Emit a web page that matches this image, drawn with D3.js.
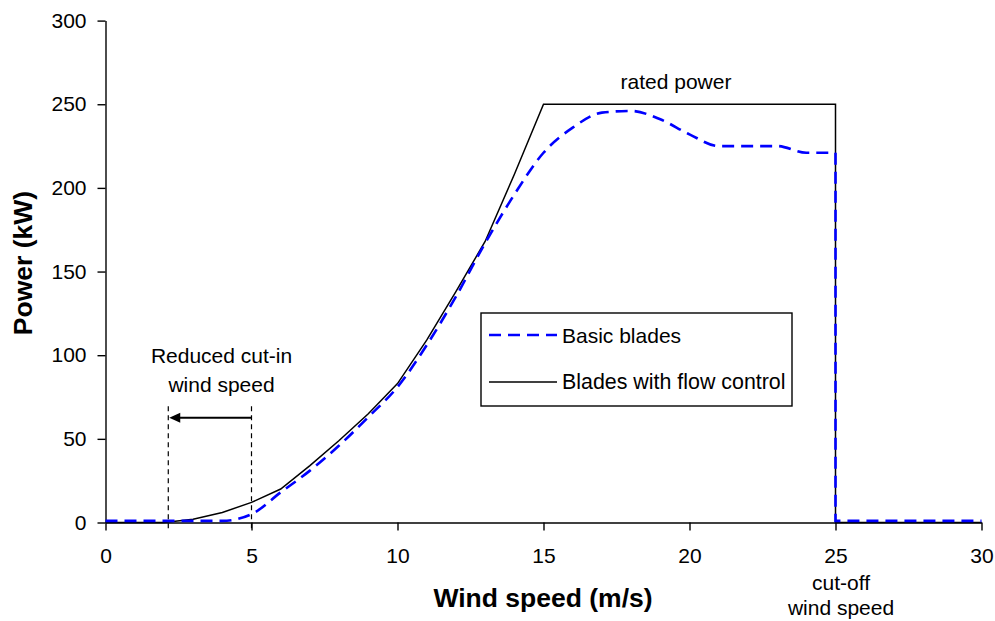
<!DOCTYPE html>
<html>
<head>
<meta charset="utf-8">
<script src="https://cdn.jsdelivr.net/npm/d3@7"></script>
<style>
  html, body { margin: 0; padding: 0; background: #fff; }
  svg { display: block; }
  text { font-family: "Liberation Sans", Arial, sans-serif; fill: #000; }
</style>
</head>
<body>
<svg id="chart" width="995" height="621"></svg>
<script>
// Power curve of a wind turbine: basic blades vs. blades with flow control
const speedFlow = [0, 1, 2, 3, 4, 5, 6, 7, 8, 9, 10, 11, 12, 13, 14, 15, 25, 25, 30];
const powerFlow = [0, 0, 0, 2, 6, 12, 20, 34, 49, 65, 83, 109, 138, 168, 208, 250, 250, 0, 0];

const speedBasic = [0, 1, 2, 3, 4, 5, 6, 7, 8, 9, 10, 11, 12, 13, 14, 15, 16, 17, 18, 19, 20, 21, 22, 23, 24, 25];
const powerBasic = [1, 1, 1, 1, 1, 5, 18, 31, 46, 63, 81, 106, 135, 167, 196, 221, 236, 245, 246, 241, 232, 225, 225, 225, 221, 221];
// after cut-off the basic blades produce nothing
const speedBasicOff = [25, 25, 30];
const powerBasicOff = [221, 1, 1];

const xTicks = [0, 5, 10, 15, 20, 25, 30];
const yTicks = [0, 50, 100, 150, 200, 250, 300];

const cutInOld = 5, cutInNew = 2.15, cutOff = 25;

const svg = d3.select("#chart");
const x = d3.scaleLinear().domain([0, 30]).range([105.5, 981.5]);
const y = d3.scaleLinear().domain([0, 300]).range([522.5, 20.6]);

// axes
const xAxis = svg.append("g")
  .attr("transform", `translate(0,${y(0)})`)
  .call(d3.axisBottom(x).tickValues(xTicks).tickSize(8).tickSizeOuter(0).tickPadding(18).tickFormat(d3.format("d")));
const yAxis = svg.append("g")
  .attr("transform", `translate(${x(0)},0)`)
  .call(d3.axisLeft(y).tickValues(yTicks).tickSize(8).tickSizeOuter(0).tickPadding(11).tickFormat(d3.format("d")));
[xAxis, yAxis].forEach(g => {
  g.selectAll("path, line").attr("stroke", "#000").attr("stroke-width", 1.4);
  g.selectAll("text").style("font-size", "21px").style("font-family", "'Liberation Sans', Arial, sans-serif").attr("fill", "#000");
});

// curves
const toPts = (xs, ys) => xs.map((v, i) => [v, ys[i]]);
const linear = d3.line().x(d => x(d[0])).y(d => y(d[1]));
const smooth = d3.line().x(d => x(d[0])).y(d => y(d[1])).curve(d3.curveMonotoneX);

svg.append("path")
  .attr("d", linear(toPts(speedFlow, powerFlow)))
  .attr("fill", "none").attr("stroke", "#000").attr("stroke-width", 1.5);

const basicGroup = svg.append("g")
  .attr("fill", "none").attr("stroke", "#0000ff").attr("stroke-width", 2.6)
  .attr("stroke-dasharray", "12,7");
basicGroup.append("path").attr("d", smooth(toPts(speedBasic, powerBasic)));
basicGroup.append("path").attr("d", linear(toPts(speedBasicOff, powerBasicOff)));

// cut-in annotation
[cutInNew, cutInOld].forEach(v => {
  svg.append("line")
    .attr("x1", x(v)).attr("x2", x(v))
    .attr("y1", y(69.5)).attr("y2", y(-4.8))
    .attr("stroke", "#000").attr("stroke-width", 1.2).attr("stroke-dasharray", "5,4");
});
const arrowY = y(62.6);
svg.append("line")
  .attr("x1", x(cutInOld)).attr("x2", x(cutInNew) + 8)
  .attr("y1", arrowY).attr("y2", arrowY)
  .attr("stroke", "#000").attr("stroke-width", 2);
svg.append("path")
  .attr("d", `M${x(cutInNew) + 1},${arrowY} L${x(cutInNew) + 12},${arrowY - 5} L${x(cutInNew) + 12},${arrowY + 5} Z`)
  .attr("fill", "#000");

svg.append("text").attr("x", 221.5).attr("y", 363.3).attr("text-anchor", "middle")
  .style("font-size", "21px").text("Reduced cut-in");
svg.append("text").attr("x", 221.5).attr("y", 391.7).attr("text-anchor", "middle")
  .style("font-size", "21px").text("wind speed");

svg.append("text").attr("x", 676).attr("y", 89).attr("text-anchor", "middle")
  .style("font-size", "21px").text("rated power");

svg.append("text").attr("x", 841).attr("y", 590).attr("text-anchor", "middle")
  .style("font-size", "21px").text("cut-off");
svg.append("text").attr("x", 841).attr("y", 615).attr("text-anchor", "middle")
  .style("font-size", "21px").text("wind speed");

// axis titles
svg.append("text").attr("x", 543).attr("y", 607).attr("text-anchor", "middle")
  .style("font-size", "26.5px").style("font-weight", "bold").text("Wind speed (m/s)");
svg.append("text").attr("transform", "translate(32,263) rotate(-90)").attr("text-anchor", "middle")
  .style("font-size", "26.5px").style("font-weight", "bold").text("Power (kW)");

// legend
const legend = svg.append("g");
legend.append("rect").attr("x", 481).attr("y", 313).attr("width", 311).attr("height", 93)
  .attr("fill", "#fff").attr("stroke", "#000").attr("stroke-width", 1.4);
legend.append("line").attr("x1", 489).attr("x2", 557).attr("y1", 335).attr("y2", 335)
  .attr("stroke", "#0000ff").attr("stroke-width", 2.6).attr("stroke-dasharray", "12,7");
legend.append("line").attr("x1", 489).attr("x2", 557).attr("y1", 382).attr("y2", 382)
  .attr("stroke", "#000").attr("stroke-width", 1.5);
legend.append("text").attr("x", 562).attr("y", 343).style("font-size", "21px").text("Basic blades");
legend.append("text").attr("x", 562).attr("y", 389).style("font-size", "21.4px").text("Blades with flow control");
</script>
</body>
</html>
